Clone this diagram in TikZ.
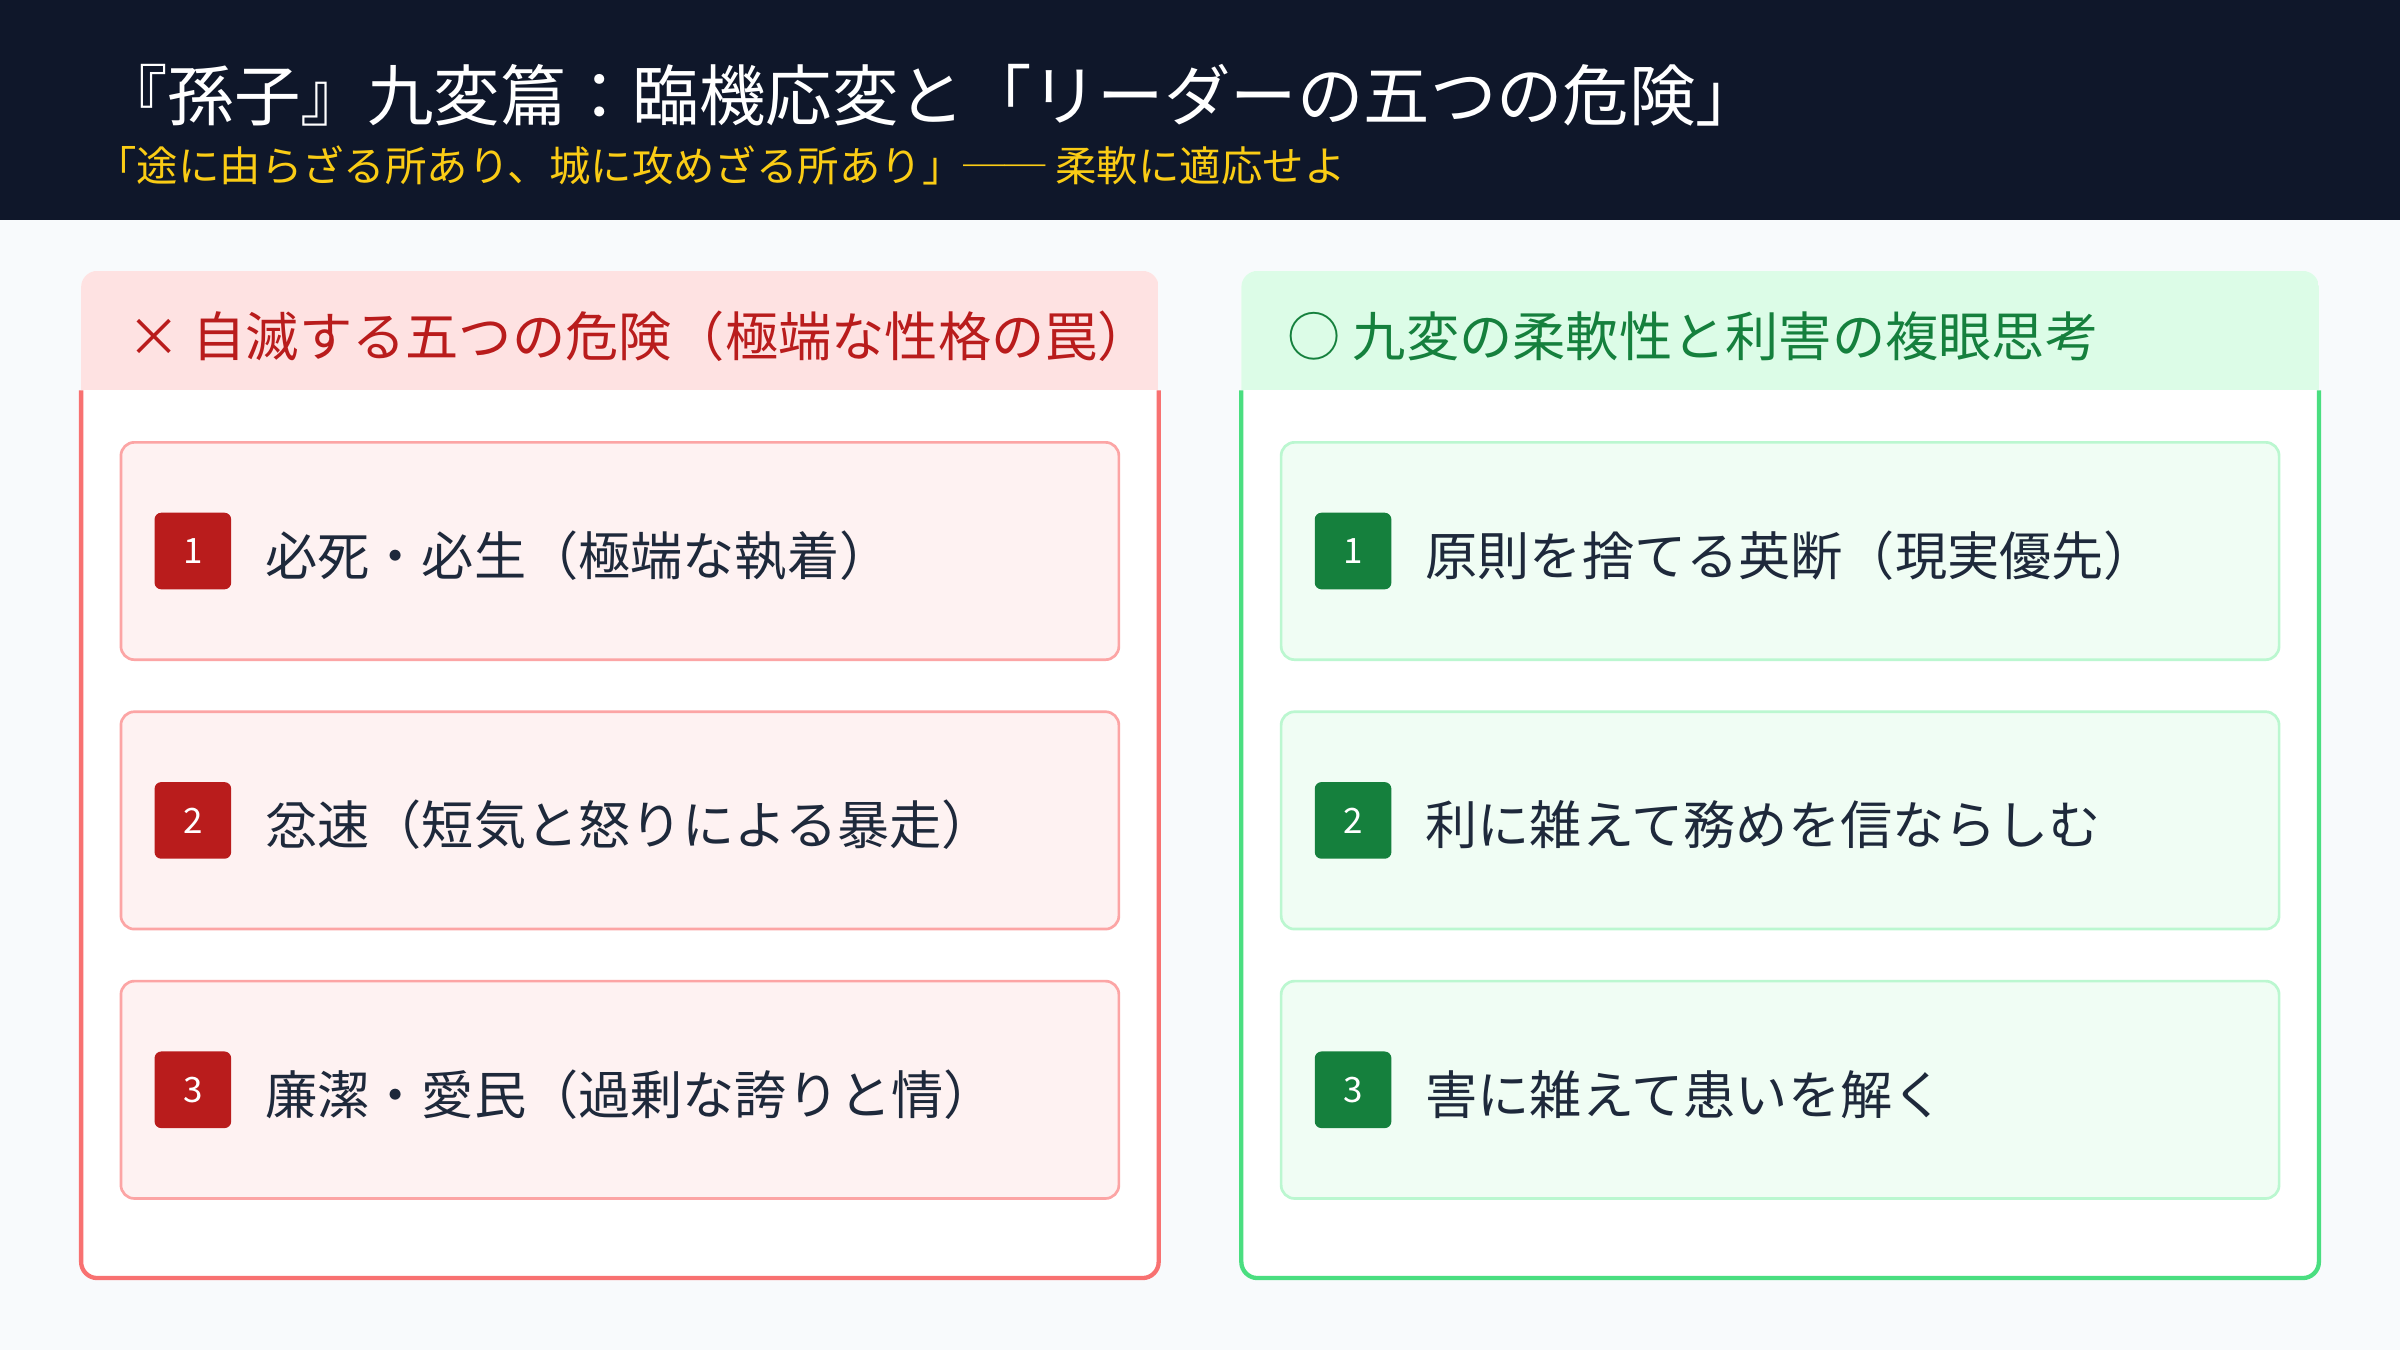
\documentclass[tikz,border=0pt]{standalone}
\usepackage{fontspec}
\setmainfont{Noto Sans CJK JP}
\begin{document}
\begin{tikzpicture}[x=0.02cm,y=-0.02cm,
  panel/.style={rounded corners=6pt,line width=1.6pt},
  item/.style={rounded corners=5pt,line width=1pt},
  badge/.style={rounded corners=2.5pt,minimum width=28.5pt,minimum height=28.5pt,inner sep=0pt,text=white,font=\fontsize{13}{14}\selectfont},
  itxt/.style={anchor=west,text=ink,font=\fontsize{19.4}{22}\selectfont,inner sep=0pt},
  htxt/.style={anchor=west,font=\fontsize{19.8}{22}\selectfont,inner sep=0pt}]
\definecolor{bg}{HTML}{F8FAFC}\definecolor{navy}{HTML}{0F172A}\definecolor{gold}{HTML}{FACC15}
\definecolor{ink}{HTML}{1E293B}
\definecolor{rB}{HTML}{F87171}\definecolor{rH}{HTML}{FEE2E2}\definecolor{rT}{HTML}{B91C1C}\definecolor{rI}{HTML}{FEF2F2}\definecolor{rIB}{HTML}{FCA5A5}
\definecolor{gB}{HTML}{4ADE80}\definecolor{gH}{HTML}{DCFCE7}\definecolor{gT}{HTML}{15803D}\definecolor{gI}{HTML}{F0FDF4}\definecolor{gIB}{HTML}{BBF7D0}
\fill[bg] (0,0) rectangle (1568,882);
\useasboundingbox (0,0) rectangle (1568,882);
\fill[navy] (0,0) rectangle (1568,144);
\node[anchor=west,text=white,font=\fontsize{24.7}{28}\selectfont,inner sep=0pt] (title) at (66,62) {『孫子』九変篇：臨機応変と「リーダーの五つの危険」};
\node[anchor=west,text=gold,font=\fontsize{15.4}{17}\selectfont,inner sep=0pt] (sub) at (62,108) {「途に由らざる所あり、城に攻めざる所あり」── 柔軟に適応せよ};
\foreach \px/\B/\H/\T/\I/\IB/\hd/\a/\b/\c in {53/rB/rH/rT/rI/rIB/{× 自滅する五つの危険（極端な性格の罠）}/{必死・必生（極端な執着）}/{忿速（短気と怒りによる暴走）}/{廉潔・愛民（過剰な誇りと情）},
  811/gB/gH/gT/gI/gIB/{○ 九変の柔軟性と利害の複眼思考}/{原則を捨てる英断（現実優先）}/{利に雑えて務めを信ならしむ}/{害に雑えて患いを解く}}{
  \begin{scope}
  \clip[rounded corners=6pt] (\px,177) rectangle ++(704,658);
  \fill[white] (\px,177) rectangle ++(704,658);
  \fill[\H] (\px,177) rectangle ++(704,78);
  \end{scope}
  \draw[panel,\B] (\px,255) -- (\px,835) -- (\px+704,835) -- (\px+704,255);
  \node[htxt,text=\T] (h\px) at (\px+30,220) {\hd};
  \foreach \i/\t in {0/\a,1/\b,2/\c}{
    \draw[item,fill=\I,draw=\IB] (\px+26,289+176*\i) rectangle ++(652,142);
    \node[badge,fill=\T] (bd\px\i) at (\px+73,360+176*\i) {\the\numexpr\i+1\relax};
    \node[itxt] (t\px\i) at (\px+120,363+176*\i) {\t};
  }
}
\end{tikzpicture}
\end{document}
